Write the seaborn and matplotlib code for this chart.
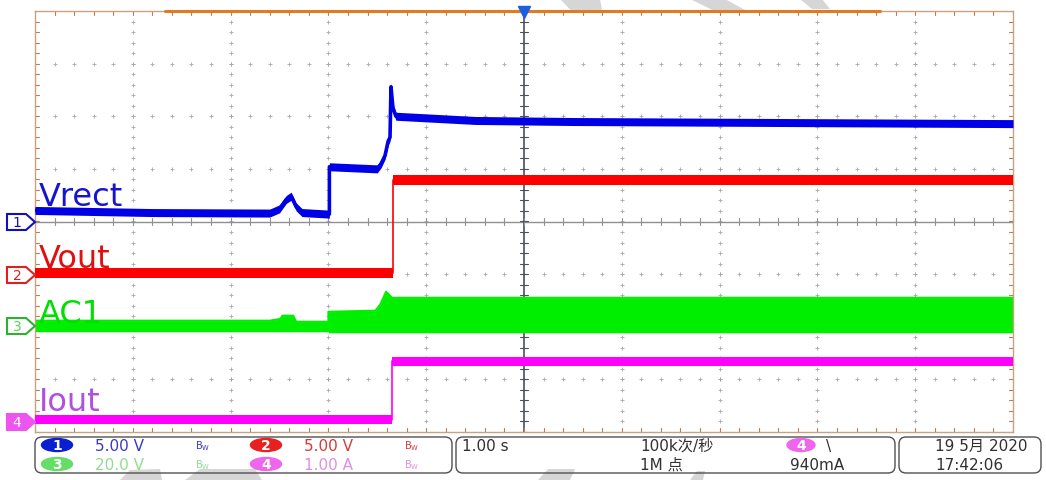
#oscilloscope capture: Vrect / Vout / AC1 / Iout at start-up
#scope screen: 10 div x 8 div, 1.00 s/div, trigger in the middle

import numpy as np
import seaborn as sns
import matplotlib.pyplot as plt
from matplotlib.patches import FancyBboxPatch, Ellipse, Polygon

# CH1 Vrect (5.00 V/div)
vrect_t = [-5.00, -3.80, -2.60, -2.50, -2.43, -2.38, -2.33, -2.27, -1.99, -1.99,
           -1.50, -1.46, -1.42, -1.39, -1.37, -1.36, -1.34, -1.31, -0.50, 0.50, 5.00]
vrect_v = [1.05, 0.85, 0.80, 1.20, 2.10, 2.40, 1.40, 0.85, 0.70, 5.20,
           5.00, 5.50, 6.30, 7.60, 8.00, 12.80, 10.80, 10.00, 9.60, 9.50, 9.30]

# CH2 Vout (5.00 V/div)
vout_t = [-5.00, -1.34, -1.34, 5.00]
vout_v = [0.10, 0.10, 8.95, 8.95]

# CH3 AC1 (20.0 V/div) -> envelope of the switching waveform
ac1_t = [-5.00, -2.60, -2.49, -2.47, -2.36, -2.33, -2.00, -2.00, -1.52, -1.47, -1.41, -1.35, 5.00]
ac1_hi = [2.3, 2.3, 3.0, 4.2, 4.2, 1.9, 1.9, 5.7, 6.1, 8.4, 13.3, 11.0, 11.0]
ac1_lo = [-1.9, -1.9, -1.9, -1.9, -1.9, -1.9, -1.9, -2.3, -2.3, -2.3, -2.3, -2.3, -2.3]

# CH4 Iout (1.00 A/div)
iout_t = [-5.00, -1.35, -1.35, 5.00]
iout_a = [0.03, 0.03, 1.14, 1.14]

# channel settings: (scale per div, ground offset in div)
ch_scale = {"1": 5.0, "2": 5.0, "3": 20.0, "4": 1.0}
ch_offset = {"1": 0.0, "2": -1.0, "3": -2.0, "4": -3.8}

W, H = 1046, 481
X0, X1, Y0, Y1 = 35, 1013, 12, 433
PX_DIV = (Y1 - Y0) / 8.0

sns.set_style("white")
plt.rcParams['font.family'] = ['DejaVu Sans', 'Noto Sans CJK SC']

fig = plt.figure(figsize=(W / 100, H / 100), dpi=100)

# watermark smudges behind everything (figure coords in px)
bg = fig.add_axes([0, 0, 1, 1])
bg.set_xlim(0, W)
bg.set_ylim(H, 0)
bg.axis("off")
for pts in [[(560, 0), (600, 0), (604, 22), (585, 26)],
            [(690, 0), (725, 0), (765, 22), (735, 22)],
            [(800, 0), (822, 0), (830, 10), (812, 10)],
            [(120, 481), (130, 471), (160, 470), (162, 481)],
            [(185, 481), (200, 470), (255, 470), (262, 481)],
            [(538, 481), (548, 470), (575, 470), (570, 481)],
            [(690, 481), (697, 472), (705, 472), (703, 481)]]:
    bg.add_patch(Polygon(pts, closed=True, fc="#d6d6d6", ec="none"))

ax = fig.add_axes([X0 / W, (H - Y1) / H, (X1 - X0) / W, (Y1 - Y0) / H])
ax.set_xlim(-5, 5)
ax.set_ylim(-4, 4)
ax.set_xticks([])
ax.set_yticks([])
for s in ax.spines.values():
    s.set_color("#c9a27e")
    s.set_linewidth(1.0)

# graticule
minor_y = np.arange(-4, 4.01, 0.2)
minor_x = np.arange(-5, 5.01, 0.2)
for gx in [-4, -3, -2, -1, 1, 2, 3, 4]:
    ax.plot([gx] * len(minor_y), minor_y, ls="none", marker="+", ms=3, mew=0.6, color="#a8a8a8", zorder=1)
for gy in [-3, -2, -1, 1, 2, 3]:
    ax.plot(minor_x, [gy] * len(minor_x), ls="none", marker="+", ms=3, mew=0.6, color="#a8a8a8", zorder=1)
ax.axhline(0, color="#909090", lw=1.0, zorder=1)
ax.axvline(0, color="#4a4f60", lw=1.2, zorder=1)
for mx in minor_x:
    ax.plot([mx, mx], [-0.06, 0.06], color="#909090", lw=0.8, zorder=1)
    ax.plot([mx, mx], [-4, -3.93], color="#b08060", lw=0.8, zorder=1)
    ax.plot([mx, mx], [4, 3.93], color="#b08060", lw=0.8, zorder=1)
for my in minor_y:
    ax.plot([-0.04, 0.04], [my, my], color="#4a4f60", lw=0.8, zorder=1)
    ax.plot([-5, -4.96], [my, my], color="#b08060", lw=0.8, zorder=1)
    ax.plot([5, 4.96], [my, my], color="#b08060", lw=0.8, zorder=1)


def to_div(vals, ch):
    return np.array(vals) / ch_scale[ch] + ch_offset[ch]


def trace(t, vals, ch, color, thick_px, edge_lw=1.2):
    y = to_div(vals, ch)
    h = thick_px / 2 / PX_DIV
    ax.fill_between(t, y - h, y + h, color=color, lw=0, zorder=3)
    sns.lineplot(x=t, y=y, ax=ax, color=color, lw=edge_lw, sort=False, estimator=None, zorder=3)


# green AC1 band first, then the others
ax.fill_between(ac1_t, to_div(ac1_lo, "3"), to_div(ac1_hi, "3"), color="#00ee00", lw=0, zorder=2)
sns.lineplot(x=ac1_t, y=to_div(ac1_hi, "3"), ax=ax, color="#00ee00", lw=1.5, sort=False, estimator=None, zorder=2)
trace(iout_t, iout_a, "4", "#ff00ff", 9)
trace(vout_t, vout_v, "2", "#ff0000", 10)
trace(vrect_t, vrect_v, "1", "#0000e6", 8, edge_lw=2.6)

# overlay in pixel coords for labels, markers, status bar
ov = fig.add_axes([0, 0, 1, 1])
ov.set_xlim(0, W)
ov.set_ylim(H, 0)
ov.axis("off")
ov.patch.set_alpha(0)

# top orange bar and trigger marker
ov.plot([165, 880], [12, 12], color="#e07b20", lw=2.2)
ov.plot([524], [13], marker="v", ms=9, color="#1a5fe0")

# trace names
ov.text(39, 206, "Vrect", color="#1515d0", fontsize=23)
ov.text(39, 268, "Vout", color="#e01010", fontsize=23)
ov.text(39, 323, "AC1", color="#00e000", fontsize=23)
ov.text(39, 411, "Iout", color="#b050e0", fontsize=23)

# channel ground markers on the left
markers = [("1", 223, "#1010c0", "white", "#1010c0"),
           ("2", 276, "#e02020", "white", "#e02020"),
           ("3", 327, "#30b030", "white", "#60d060"),
           ("4", 423, "#ee55ee", "#ee55ee", "white")]
for lab, my, edge, face, tc in markers:
    pts = [(7, my - 8), (26, my - 8), (35, my), (26, my + 8), (7, my + 8)]
    ov.add_patch(Polygon(pts, closed=True, ec=edge, fc=face, lw=1.5))
    ov.text(17, my + 0.5, lab, color=tc, fontsize=10, ha="center", va="center")

# status bar boxes
for bx0, bx1 in [(35, 452), (456, 895), (899, 1041)]:
    ov.add_patch(FancyBboxPatch((bx0, 438), bx1 - bx0, 36,
                                boxstyle="round,pad=0,rounding_size=7",
                                ec="#505050", fc="none", lw=1.0))

badges = [("1", 57, 446, "#0a1fd0", "5.00 V", "#3a3ac0"),
          ("2", 266, 446, "#e82020", "5.00 V", "#d83a3a"),
          ("3", 57, 465, "#66dd66", "20.0 V", "#90dd90"),
          ("4", 266, 465, "#ee66ee", "1.00 A", "#e090e0")]
for lab, cx, cy, col, val, vcol in badges:
    ov.add_patch(Ellipse((cx, cy), 31, 13, color=col))
    ov.text(cx, cy + 0.5, lab, color="white", fontsize=10, ha="center", va="center", fontweight="bold")
    ov.text(cx + 38, cy + 0.5, val, color=vcol, fontsize=11, va="center")
    ov.text(cx + 138, cy + 0.5, r"$\mathregular{B_W}$", color=vcol, fontsize=7, va="center")

ov.text(462, 446.5, "1.00 s", color="#303030", fontsize=11, va="center")
ov.text(640, 446.5, "100k次/秒", color="#303030", fontsize=11, va="center")
ov.text(640, 465.5, "1M 点", color="#303030", fontsize=11, va="center")
ov.add_patch(Ellipse((801, 446), 28, 13, color="#ee66ee"))
ov.text(801, 446.5, "4", color="white", fontsize=10, ha="center", va="center", fontweight="bold")
ov.text(826, 446.5, "\\", color="#303030", fontsize=11, va="center")
ov.text(790, 465.5, "940mA", color="#303030", fontsize=11, va="center")
ov.text(935, 446.5, "19 5月 2020", color="#303030", fontsize=11, va="center")
ov.text(935, 465.5, "17:42:06", color="#303030", fontsize=11, va="center")

fig.savefig("out.png", dpi=100)
